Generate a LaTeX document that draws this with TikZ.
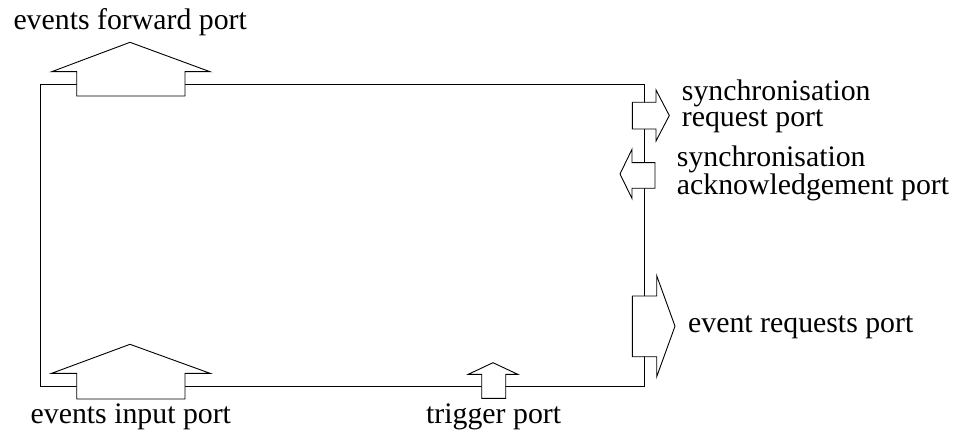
\documentclass[tikz,border=0pt]{standalone}
\usepackage{fontspec}
\setmainfont{Liberation Serif}
\begin{document}
\begin{tikzpicture}[x=1pt,y=-1pt,
  frame/.style={draw=black,line width=0.9pt},
  portshape/.style={draw=black,fill=white,line width=0.9pt,line join=miter},
  lbl/.style={inner sep=0pt,anchor=base west,align=left,
    font=\fontsize{29.8}{26.5}\selectfont}]
  \useasboundingbox (0,0) rectangle (955,430);

  % component body
  \draw[frame] (40,84.5) rectangle (644,386.5);

  % events forward port (upward, top edge)
  \draw[portshape] (76.7,96) -- (76.7,71.7) -- (51.7,71.7) -- (130,42.3)
    -- (210,71.7) -- (185,71.7) -- (185,96) -- cycle;
  % events input port (upward, bottom edge)
  \draw[portshape] (76.7,399) -- (76.7,373.3) -- (51.7,373.3) -- (130,344.3)
    -- (210,373.3) -- (185,373.3) -- (185,399) -- cycle;
  % trigger port (upward, bottom edge)
  \draw[portshape] (481.7,398.3) -- (481.7,374.3) -- (468.3,374.3) -- (493,362.7)
    -- (517.7,374.3) -- (505.7,374.3) -- (505.7,398.3) -- cycle;
  % synchronisation request port (rightward)
  \draw[portshape] (632.3,102.3) -- (656,102.3) -- (656,90) -- (669.3,115.5)
    -- (656,141) -- (656,129) -- (632.3,129) -- cycle;
  % synchronisation acknowledgement port (leftward)
  \draw[portshape] (655,162.7) -- (632,162.7) -- (632,149.3) -- (620,174)
    -- (632,198.5) -- (632,188.3) -- (655,188.3) -- cycle;
  % event requests port (rightward)
  \draw[portshape] (632.3,296) -- (656.7,296) -- (656.7,275.7) -- (675,326.2)
    -- (656.7,376.7) -- (656.7,356.7) -- (632.3,356.7) -- cycle;

  % labels (two-line labels are anchored on their last baseline)
  \node[lbl] (lfwd) at (13.3,30) {events forward port};
  \node[lbl] (lin) at (30.5,423) {events input port};
  \node[lbl] (ltrig) at (426,423) {trigger port};
  \node[lbl] (lsreq) at (681.7,127) {synchronisation\\request port};
  \node[lbl] (lsack) at (676.7,194.3) {synchronisation\\acknowledgement port};
  \node[lbl] (lereq) at (688,332) {event requests port};
\end{tikzpicture}
\end{document}
